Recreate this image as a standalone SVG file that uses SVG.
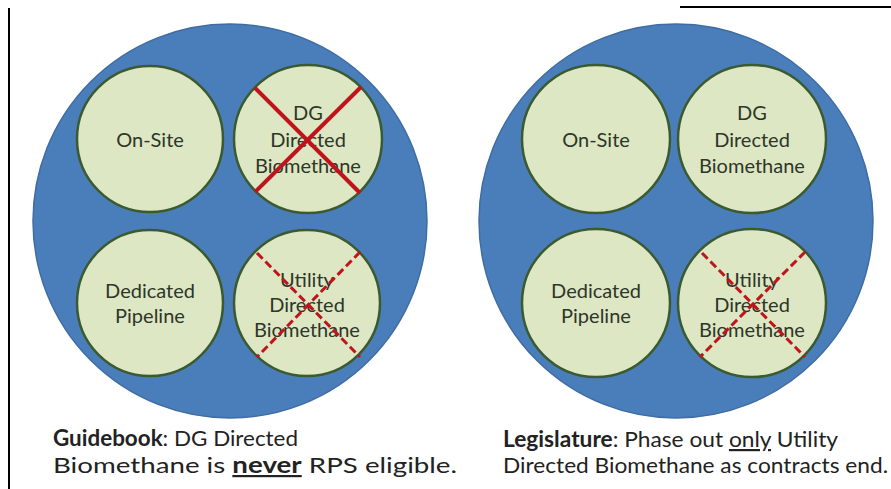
<svg xmlns="http://www.w3.org/2000/svg" width="891" height="489" viewBox="0 0 891 489">
<style>
.big{fill:#4a7ebb;stroke:#3f6da3;stroke-width:1.5}
.small{fill:#dde7c3;stroke:#3b5a30;stroke-width:2.5}
.lbl{font-family:Lato,"Liberation Sans",sans-serif;font-size:20px;fill:#2e3529;text-anchor:middle}
.cap{font-family:Lato,"Liberation Sans",sans-serif;font-size:22px;fill:#222}
.xs{stroke:#c0141c;stroke-width:4;stroke-linecap:butt}
.xd{stroke:#c0141c;stroke-width:3;stroke-dasharray:8 4}
.rule{stroke:#000;stroke-width:2}
</style>
<rect width="891" height="489" fill="#fff"/>
<line class="rule" x1="9" y1="8" x2="9" y2="489"/>
<line class="rule" x1="680" y1="7" x2="891" y2="7"/>
<g id="left">
<circle class="big" cx="230" cy="221" r="197"/>
<g id="l-onsite"><circle class="small" cx="150" cy="139" r="73"/><text class="lbl" x="150" y="147">On-Site</text></g>
<g id="l-dg"><circle class="small" cx="308" cy="139" r="74"/><text class="lbl"><tspan x="308" y="120">DG</tspan><tspan x="308" y="147">Directed</tspan><tspan x="308" y="173">Biomethane</tspan></text>
<line class="xs" x1="255" y1="88" x2="360" y2="193"/><line class="xs" x1="361" y1="87" x2="255" y2="192"/></g>
<g id="l-pipe"><circle class="small" cx="150" cy="303" r="73"/><text class="lbl"><tspan x="150" y="298">Dedicated</tspan><tspan x="150" y="323">Pipeline</tspan></text></g>
<g id="l-util"><circle class="small" cx="307" cy="303" r="73"/><text class="lbl"><tspan x="307" y="287">Utility</tspan><tspan x="307" y="312">Directed</tspan><tspan x="307" y="337">Biomethane</tspan></text>
<line class="xd" x1="257" y1="253" x2="360" y2="357"/><line class="xd" x1="360" y1="252" x2="257" y2="357"/></g>
</g>
<g id="right">
<circle class="big" cx="676" cy="221" r="197"/>
<g id="r-onsite"><circle class="small" cx="596" cy="139" r="74"/><text class="lbl" x="596" y="147">On-Site</text></g>
<g id="r-dg"><circle class="small" cx="752" cy="139" r="74"/><text class="lbl"><tspan x="752" y="120">DG</tspan><tspan x="752" y="147">Directed</tspan><tspan x="752" y="173">Biomethane</tspan></text></g>
<g id="r-pipe"><circle class="small" cx="596" cy="303" r="74"/><text class="lbl"><tspan x="596" y="298">Dedicated</tspan><tspan x="596" y="323">Pipeline</tspan></text></g>
<g id="r-util"><circle class="small" cx="752" cy="303" r="74"/><text class="lbl"><tspan x="752" y="287">Utility</tspan><tspan x="752" y="312">Directed</tspan><tspan x="752" y="337">Biomethane</tspan></text>
<line class="xd" x1="702" y1="253" x2="805" y2="357"/><line class="xd" x1="805" y1="252" x2="700" y2="357"/></g>
</g>
<g id="captions">
<text class="cap" x="53" y="446" textLength="245" lengthAdjust="spacingAndGlyphs"><tspan font-weight="bold">Guidebook</tspan>: DG Directed</text>
<text class="cap" x="53" y="473" textLength="404" lengthAdjust="spacingAndGlyphs">Biomethane is <tspan font-weight="bold" text-decoration="underline">never</tspan> RPS eligible.</text>
<text class="cap" x="503" y="447" textLength="335" lengthAdjust="spacingAndGlyphs"><tspan font-weight="bold">Legislature</tspan>: Phase out <tspan text-decoration="underline">only</tspan> Utility</text>
<text class="cap" x="503" y="473" textLength="385" lengthAdjust="spacingAndGlyphs">Directed Biomethane as contracts end.</text>
</g>
</svg>
